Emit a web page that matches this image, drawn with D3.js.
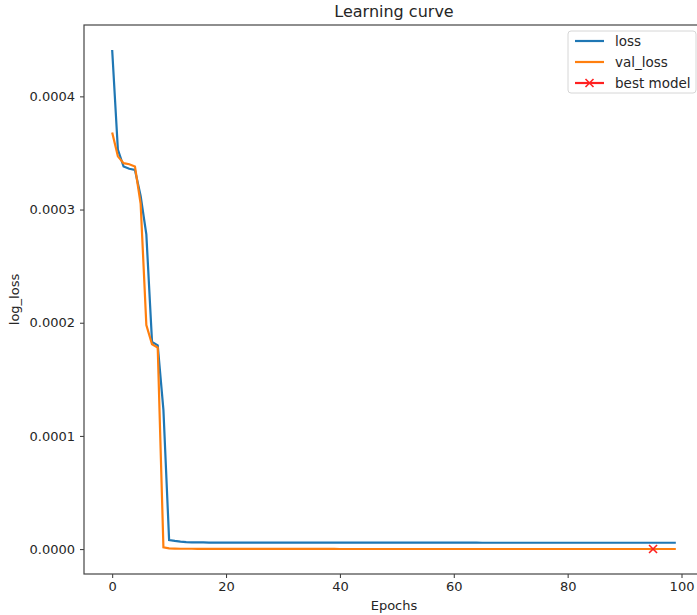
<!DOCTYPE html>
<html>
<head>
<meta charset="utf-8">
<script src="https://cdn.jsdelivr.net/npm/d3@7"></script>
<style>
  body { margin: 0; background: #fff; }
  svg { display: block; font-family: "DejaVu Sans", sans-serif; }
</style>
</head>
<body>
<svg id="chart" width="697" height="615"></svg>
<script>
// training history, one value per epoch (0..99)
const loss = [
  4.41e-4, 3.53e-4, 3.38e-4, 3.36e-4, 3.35e-4, 3.12e-4, 2.78e-4, 1.83e-4, 1.80e-4, 1.23e-4,
  8.0e-6, 7.2e-6, 6.6e-6, 6.2e-6, 6.0e-6, 5.9e-6, 5.9e-6, 5.8e-6, 5.8e-6, 5.8e-6,
  5.8e-6, 5.8e-6, 5.8e-6, 5.8e-6, 5.8e-6, 5.8e-6, 5.8e-6, 5.8e-6, 5.8e-6, 5.8e-6,
  5.8e-6, 5.8e-6, 5.8e-6, 5.8e-6, 5.8e-6, 5.7e-6, 5.7e-6, 5.7e-6, 5.7e-6, 5.7e-6,
  5.7e-6, 5.7e-6, 5.7e-6, 5.7e-6, 5.7e-6, 5.7e-6, 5.7e-6, 5.7e-6, 5.7e-6, 5.7e-6,
  5.7e-6, 5.7e-6, 5.7e-6, 5.7e-6, 5.7e-6, 5.7e-6, 5.7e-6, 5.7e-6, 5.7e-6, 5.7e-6,
  5.7e-6, 5.7e-6, 5.7e-6, 5.7e-6, 5.7e-6, 5.6e-6, 5.6e-6, 5.6e-6, 5.6e-6, 5.6e-6,
  5.6e-6, 5.6e-6, 5.6e-6, 5.6e-6, 5.6e-6, 5.6e-6, 5.6e-6, 5.6e-6, 5.6e-6, 5.6e-6,
  5.6e-6, 5.6e-6, 5.6e-6, 5.6e-6, 5.6e-6, 5.6e-6, 5.6e-6, 5.6e-6, 5.6e-6, 5.6e-6,
  5.6e-6, 5.6e-6, 5.6e-6, 5.6e-6, 5.6e-6, 5.6e-6, 5.6e-6, 5.6e-6, 5.6e-6, 5.6e-6
]
const valLoss = [
  3.68e-4, 3.47e-4, 3.41e-4, 3.40e-4, 3.38e-4, 3.05e-4, 1.98e-4, 1.81e-4, 1.78e-4, 1.5e-6,
  6e-7, 4e-7, 3e-7, 3e-7, 3e-7, 2e-7, 2e-7, 2e-7, 2e-7, 2e-7,
  2e-7, 2e-7, 2e-7, 2e-7, 2e-7, 2e-7, 2e-7, 2e-7, 2e-7, 2e-7,
  2e-7, 2e-7, 2e-7, 2e-7, 2e-7, 2e-7, 2e-7, 2e-7, 2e-7, 2e-7,
  1e-7, 1e-7, 1e-7, 1e-7, 1e-7, 1e-7, 1e-7, 1e-7, 1e-7, 1e-7,
  1e-7, 1e-7, 1e-7, 1e-7, 1e-7, 1e-7, 1e-7, 1e-7, 1e-7, 1e-7,
  1e-7, 1e-7, 1e-7, 1e-7, 1e-7, 1e-7, 1e-7, 1e-7, 1e-7, 1e-7,
  1e-7, 1e-7, 1e-7, 1e-7, 1e-7, 1e-7, 1e-7, 1e-7, 1e-7, 1e-7,
  1e-7, 1e-7, 1e-7, 1e-7, 1e-7, 1e-7, 1e-7, 1e-7, 1e-7, 1e-7,
  1e-7, 1e-7, 1e-7, 1e-7, 1e-7, 5e-8, 1e-7, 1e-7, 1e-7, 1e-7
]
const xTicks = [0, 20, 40, 60, 80, 100]
const yTicks = [0, 0.0001, 0.0002, 0.0003, 0.0004]
const seriesNames = ["loss", "val_loss", "best model"]

const colours = { loss: "#1f77b4", val_loss: "#ff7f0e", best: "#ff2020" }
const epochs = d3.range(loss.length)
const bestEpoch = d3.minIndex(valLoss)

const svg = d3.select("#chart")
const plotLeft = 84, plotTop = 25, plotRight = 704, plotBottom = 574

// matplotlib style 5% margins around the data
let xMin = 0, xMax = epochs.length - 1
let xPad = (xMax - xMin) * 0.05
let yMin = Math.min(d3.min(loss), d3.min(valLoss)), yMax = Math.max(d3.max(loss), d3.max(valLoss))
let yPad = (yMax - yMin) * 0.05

const x = d3.scaleLinear().domain([xMin - xPad, xMax + xPad]).range([plotLeft, plotRight])
const y = d3.scaleLinear().domain([yMin - yPad, yMax + yPad]).range([plotBottom, plotTop])

const textCol = "#262626"

// axes
svg.append("g")
  .attr("transform", `translate(0,${plotBottom})`)
  .call(d3.axisBottom(x).tickValues(xTicks).tickFormat(d3.format("d")).tickSizeOuter(0).tickSize(4).tickPadding(4))
  .call(g => g.select(".domain").remove())
  .call(g => g.selectAll("line").attr("stroke", "#333"))
  .call(g => g.selectAll("text").attr("fill", textCol).style("font-size", "13px").style("font-family", "DejaVu Sans"))

svg.append("g")
  .attr("transform", `translate(${plotLeft},0)`)
  .call(d3.axisLeft(y).tickValues(yTicks).tickFormat(d3.format(".4f")).tickSizeOuter(0).tickSize(4).tickPadding(5))
  .call(g => g.select(".domain").remove())
  .call(g => g.selectAll("line").attr("stroke", "#333"))
  .call(g => g.selectAll("text").attr("fill", textCol).style("font-size", "13px").style("font-family", "DejaVu Sans"))

// lines
let line = d3.line().x((d, i) => x(i)).y(d => y(d))

svg.append("path")
  .datum(loss)
  .attr("d", line)
  .attr("fill", "none")
  .attr("stroke", colours.loss)
  .attr("stroke-width", 2.2)

svg.append("path")
  .datum(valLoss)
  .attr("d", line)
  .attr("fill", "none")
  .attr("stroke", colours.val_loss)
  .attr("stroke-width", 2.2)

// best model marker
function cross(g, cx, cy, r) {
  g.append("path")
    .attr("d", `M${cx - r},${cy - r}L${cx + r},${cy + r}M${cx - r},${cy + r}L${cx + r},${cy - r}`)
    .attr("stroke", colours.best)
    .attr("stroke-width", 1.6)
}
cross(svg, x(bestEpoch), y(valLoss[bestEpoch]), 4)

// frame
svg.append("rect")
  .attr("x", plotLeft).attr("y", plotTop)
  .attr("width", plotRight - plotLeft).attr("height", plotBottom - plotTop)
  .attr("fill", "none")
  .attr("stroke", "#444")
  .attr("stroke-width", 1.2)

// title and labels
svg.append("text")
  .attr("x", (plotLeft + plotRight) / 2).attr("y", 17)
  .attr("text-anchor", "middle")
  .attr("fill", textCol)
  .style("font-size", "16px")
  .text("Learning curve")

svg.append("text")
  .attr("x", (plotLeft + plotRight) / 2).attr("y", 610)
  .attr("text-anchor", "middle")
  .attr("fill", textCol)
  .style("font-size", "13px")
  .text("Epochs")

svg.append("text")
  .attr("transform", `translate(19,${(plotTop + plotBottom) / 2}) rotate(-90)`)
  .attr("text-anchor", "middle")
  .attr("fill", textCol)
  .style("font-size", "13px")
  .text("log_loss")

// legend
let lg = svg.append("g").attr("transform", "translate(568,31)")
lg.append("rect")
  .attr("width", 128).attr("height", 62).attr("rx", 3)
  .attr("fill", "#fff").attr("fill-opacity", 0.8)
  .attr("stroke", "#d6d6d6")

let legendCols = [colours.loss, colours.val_loss, colours.best]
seriesNames.forEach((name, i) => {
  let ly = 10 + i * 21
  lg.append("line")
    .attr("x1", 7).attr("x2", 36).attr("y1", ly).attr("y2", ly)
    .attr("stroke", legendCols[i]).attr("stroke-width", 2.2)
  if (i == 2) cross(lg, 21.5, ly, 4)
  lg.append("text")
    .attr("x", 47).attr("y", ly)
    .attr("dy", "0.35em")
    .attr("fill", textCol)
    .style("font-size", "13.5px")
    .text(name)
})
</script>
</body>
</html>
